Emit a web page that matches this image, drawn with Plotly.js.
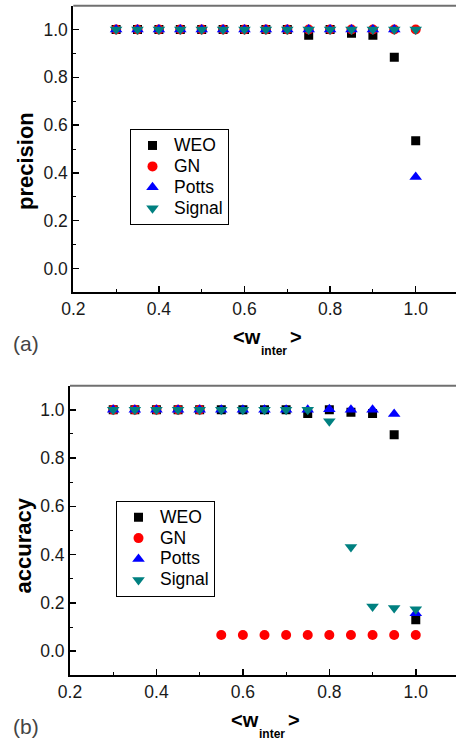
<!DOCTYPE html>
<html>
<head>
<meta charset="utf-8">
<script src="https://cdn.plot.ly/plotly-3.0.1.min.js"></script>
<style>
html,body{margin:0;padding:0;overflow:hidden;background:#fff;width:456px;height:743px;}
#chart{width:462px;height:743px;}
</style>
</head>
<body>
<div id="chart"></div>
<script>
// ---- data ----
const wInter = [0.30,0.35,0.40,0.45,0.50,0.55,0.60,0.65,0.70,0.75,0.80,0.85,0.90,0.95,1.00];

// panel (a): precision
const precWEO    = [1,1,1,1,1,1,1,1,1,0.976,1,0.985,0.976,0.884,0.535];
const precGN     = [1,1,1,1,1,1,1,1,1,1,1,1,1,1,1];
const precPotts  = [1,1,1,1,1,1,1,1,1,1,1,1,1,1,0.383];
const precSignal = [1,1,1,1,1,1,1,1,1,1,1,1,1,1,1];

// panel (b): accuracy
const accWEO    = [1,1,1,1,1,1,1,1,1,0.985,1,0.99,0.985,0.897,0.13];
const accGN     = [1,1,1,1,1,0.067,0.067,0.067,0.067,0.067,0.067,0.067,0.067,0.067,0.067];
const accPotts  = [1,1,1,1,1,1,1,1,1,1,1.002,1.0,1.0,0.983,0.157];
const accSignal = [1,1,1,1,1,1,1,1,1,1,0.953,0.432,0.185,0.179,0.174];

const seriesNames = ["WEO","GN","Potts","Signal"];
const tickFmt = ".1f";

// ---- styles ----
const FONT = "Liberation Sans, Arial, Helvetica, sans-serif";
const W = 462, H = 743;
const styles = [
  {symbol:"square", color:"#000000", size:9},
  {symbol:"circle", color:"#ff0000", size:10},
  {symbol:"triangle-up", color:"#0000ff", size:11},
  {symbol:"triangle-down", color:"#008080", size:11}
];

function mk(x, y, i, xa, ya, leg){
  return {
    x:x, y:y, type:"scatter", mode:"markers",
    name:'<span style="font-size:17.5px">' + seriesNames[i] + '</span>',
    xaxis:xa, yaxis:ya, legend:leg,
    marker:{symbol:styles[i].symbol, color:styles[i].color, size:styles[i].size, line:{width:0}},
    hoverinfo:"skip"
  };
}

const data = [
  mk(wInter, precWEO, 0, "x", "y", "legend"),
  mk(wInter, precGN, 1, "x", "y", "legend"),
  mk(wInter, precPotts, 2, "x", "y", "legend"),
  mk(wInter, precSignal, 3, "x", "y", "legend"),
  mk(wInter, accWEO, 0, "x2", "y2", "legend2"),
  mk(wInter, accGN, 1, "x2", "y2", "legend2"),
  mk(wInter, accPotts, 2, "x2", "y2", "legend2"),
  mk(wInter, accSignal, 3, "x2", "y2", "legend2")
];

function px(v){ return v / W; }
function py(v){ return (H - v) / H; }

function xax(l, r, anchor){
  return {
    domain:[px(l), px(r)], anchor:anchor, range:[0.2,1.1],
    tick0:0.2, dtick:0.2, tickformat:tickFmt,
    ticks:"inside", ticklen:6, tickwidth:1.5, tickcolor:"#000",
    minor:{tick0:0.1, dtick:0.1, ticks:"inside", ticklen:3, tickwidth:1, tickcolor:"#000"},
    showline:true, linecolor:"#000", linewidth:2,
    showgrid:false, zeroline:false,
    tickfont:{family:FONT, size:17.5, color:"#1a1a1a"},
    fixedrange:true
  };
}
function yax(top, bot, anchor){
  return {
    domain:[py(bot), py(top)], anchor:anchor, range:[-0.1,1.1],
    tick0:0, dtick:0.2, tickformat:tickFmt,
    ticks:"inside", ticklen:6, tickwidth:1.5, tickcolor:"#000",
    minor:{tick0:0, dtick:0.1, ticks:"inside", ticklen:3, tickwidth:1, tickcolor:"#000"},
    showline:true, linecolor:"#000", linewidth:2,
    showgrid:false, zeroline:false,
    tickfont:{family:FONT, size:17.5, color:"#1a1a1a"},
    fixedrange:true
  };
}

const A = {l:73.3, r:458.5, t:5.7, b:292.3};
const B = {l:70, r:459, t:385.7, b:675.3};

function legendCfg(xl, yt){
  return {x:px(xl), y:py(yt), xanchor:"left", yanchor:"top",
          bordercolor:"#000", borderwidth:1, bgcolor:"#fff",
          font:{family:FONT, size:13.8, color:"#000"}, tracegroupgap:0, itemwidth:33};
}

function xTitle(left, base){
  return [
    {text:"<b>&lt;w</b>", xref:"paper", yref:"paper", x:px(left), y:py(base-7), showarrow:false,
     font:{family:FONT, size:20, color:"#000"}, xanchor:"left", yanchor:"middle", borderpad:0},
    {text:"<b>inter</b>", xref:"paper", yref:"paper", x:px(left+27.5), y:py(base+11-4.2), showarrow:false,
     font:{family:FONT, size:12, color:"#000"}, xanchor:"left", yanchor:"middle", borderpad:0},
    {text:"<b>&gt;</b>", xref:"paper", yref:"paper", x:px(left+56.5), y:py(base-7), showarrow:false,
     font:{family:FONT, size:20, color:"#000"}, xanchor:"left", yanchor:"middle", borderpad:0}
  ];
}

const layout = {
  width:W, height:H,
  margin:{l:0, r:0, t:0, b:0},
  paper_bgcolor:"#fff", plot_bgcolor:"#fff",
  font:{family:FONT, color:"#000"},
  xaxis:xax(A.l, A.r, "y"),
  yaxis:yax(A.t, A.b, "x"),
  xaxis2:xax(B.l, B.r, "y2"),
  yaxis2:yax(B.t, B.b, "x2"),
  legend:legendCfg(130, 129),
  legend2:legendCfg(116, 500.7),
  shapes:[
    {type:"line", xref:"paper", yref:"paper", x0:px(A.l), x1:1, y0:py(A.t), y1:py(A.t), line:{color:"#707070", width:2}},
    {type:"line", xref:"paper", yref:"paper", x0:px(B.l), x1:1, y0:py(B.t), y1:py(B.t), line:{color:"#707070", width:2}}
  ],
  annotations:[
    {text:"<b>precision</b>", xref:"paper", yref:"paper", x:px(26), y:py(161), textangle:-90,
     showarrow:false, font:{family:FONT, size:22, color:"#000"}, xanchor:"center", yanchor:"middle"},
    {text:"<b>accuracy</b>", xref:"paper", yref:"paper", x:px(23), y:py(545.5), textangle:-90,
     showarrow:false, font:{family:FONT, size:22, color:"#000"}, xanchor:"center", yanchor:"middle"},
    {text:"(a)", xref:"paper", yref:"paper", x:px(25.5), y:py(343.5), showarrow:false,
     font:{family:FONT, size:21, color:"#444"}, xanchor:"center", yanchor:"middle"},
    {text:"(b)", xref:"paper", yref:"paper", x:px(25.5), y:py(726.5), showarrow:false,
     font:{family:FONT, size:21, color:"#444"}, xanchor:"center", yanchor:"middle"}
  ].concat(xTitle(232, 344), xTitle(230, 727)),
  showlegend:true
};

Plotly.newPlot("chart", data, layout, {displayModeBar:false, staticPlot:true});
</script>
</body>
</html>
